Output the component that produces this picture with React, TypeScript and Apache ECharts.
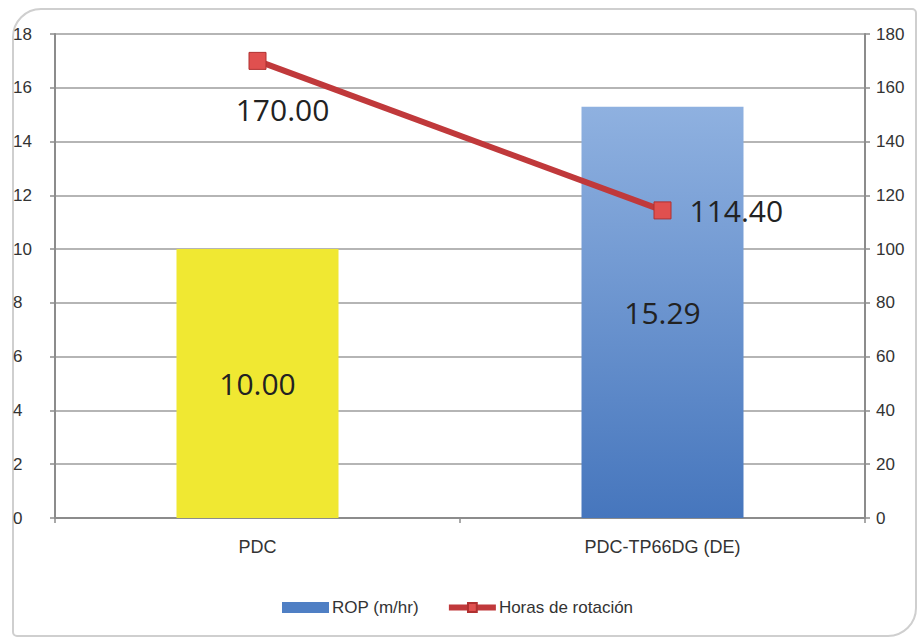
import React, { useEffect, useRef } from "react";
import * as echarts from "echarts";

const categories = ["PDC", "PDC-TP66DG (DE)"];
const ropValues = [10.0, 15.29];
const horasValues = [170.0, 114.4];
const leftTicks = [0, 18, 2];
const rightTicks = [0, 180, 20];

const AXIS_FONT = "'Liberation Sans', Arial, sans-serif";
const VALUE_FONT = "'Open Sans', 'Liberation Sans', sans-serif";

export default function App() {
  const ref = useRef<HTMLDivElement>(null);

  useEffect(() => {
    if (!ref.current) return;
    const chart = echarts.init(ref.current, undefined, { renderer: "svg" });

    const blueGradient = new echarts.graphic.LinearGradient(0, 0, 0, 1, [
      { offset: 0, color: "#8fb1e0" },
      { offset: 1, color: "#4676bd" },
    ]);

    chart.setOption({
      animation: false,
      backgroundColor: "#ffffff",
      graphic: [
        {
          type: "rect",
          shape: { x: 13, y: 9, width: 903, height: 627, r: [28, 4, 28, 4] },
          style: { fill: "none", stroke: "#cfcfcf", lineWidth: 2 },
          z: -1,
        },
      ],
      grid: { left: 55, right: 56, top: 34, bottom: 122, containLabel: false },
      legend: {
        bottom: 19,
        left: 277,
        itemGap: 27,
        itemWidth: 47,
        itemHeight: 11,
        textStyle: { fontFamily: AXIS_FONT, fontSize: 17, color: "#333", padding: [0, 0, 0, -2] },
        data: [
          { name: "ROP (m/hr)", icon: "rect", itemStyle: { color: "#4f7fc4" } },
          { name: "Horas de rotación", lineStyle: { width: 6, color: "#c0393b" } },
        ],
      },
      xAxis: {
        type: "category",
        data: categories,
        axisLine: { lineStyle: { color: "#8c8c8c", width: 2 } },
        axisTick: { show: true, length: 5, lineStyle: { color: "#8c8c8c", width: 1.5 } },
        axisLabel: { fontFamily: AXIS_FONT, fontSize: 18, color: "#333", margin: 20 },
      },
      yAxis: [
        {
          type: "value",
          min: leftTicks[0],
          max: leftTicks[1],
          interval: leftTicks[2],
          axisLine: { show: true, lineStyle: { color: "#8c8c8c", width: 2 } },
          axisTick: { show: true, length: 5, lineStyle: { color: "#8c8c8c", width: 1.5 } },
          splitLine: { lineStyle: { color: "#b5b5b5", width: 2 } },
          axisLabel: { fontFamily: AXIS_FONT, fontSize: 17, color: "#333", margin: 42, align: "left" },
        },
        {
          type: "value",
          min: rightTicks[0],
          max: rightTicks[1],
          interval: rightTicks[2],
          position: "right",
          axisLine: { show: true, lineStyle: { color: "#8c8c8c", width: 2 } },
          axisTick: { show: true, length: 5, lineStyle: { color: "#8c8c8c", width: 1.5 } },
          splitLine: { show: false },
          axisLabel: { fontFamily: AXIS_FONT, fontSize: 17, color: "#333", margin: 11 },
        },
      ],
      series: [
        {
          name: "ROP (m/hr)",
          type: "bar",
          yAxisIndex: 0,
          barWidth: "40%",
          data: ropValues.map((v, i) => ({
            value: v,
            itemStyle: { color: i === 0 ? "#f0e832" : blueGradient },
          })),
          label: {
            show: true,
            position: "inside",
            formatter: (p: any) => Number(p.value).toFixed(2),
            fontFamily: VALUE_FONT,
            fontSize: 30,
            color: "#222",
          },
          itemStyle: { color: "#4f7fc4" },
        },
        {
          name: "Horas de rotación",
          type: "line",
          yAxisIndex: 1,
          data: horasValues.map((v, i) => ({
            value: v,
            label:
              i === 0
                ? { position: "bottom", offset: [25, 20] }
                : { position: "right", distance: 18 },
          })),
          symbol: "rect",
          symbolSize: 17,
          lineStyle: { color: "#c0393b", width: 6 },
          itemStyle: { color: "#e0504f", borderColor: "#b03030", borderWidth: 1 },
          label: {
            show: true,
            formatter: (p: any) => Number(p.value).toFixed(2),
            fontFamily: VALUE_FONT,
            fontSize: 30,
            color: "#222",
          },
          z: 5,
        },
      ],
    });

    return () => chart.dispose();
  }, []);

  return (
    <div
      ref={ref}
      style={{ position: "absolute", left: 0, top: 0, width: 921, height: 640 }}
    />
  );
}
